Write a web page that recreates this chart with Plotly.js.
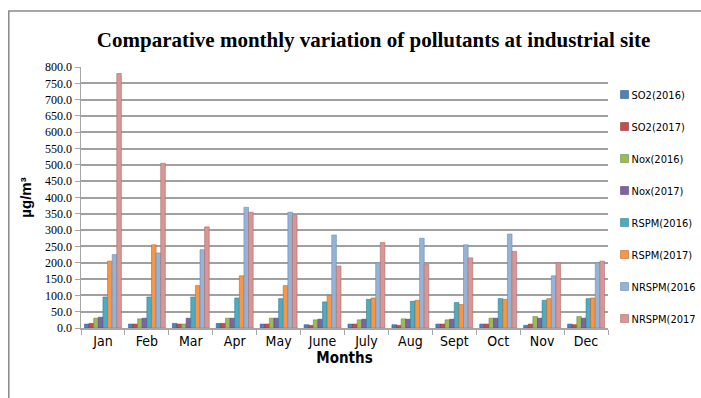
<!DOCTYPE html>
<html><head><meta charset="utf-8">
<script src="https://cdn.plot.ly/plotly-3.0.1.min.js"></script>
<style>body{margin:0;background:#fff}#c{width:701px;height:398px}</style>
</head><body><div id="c"></div>
<script>
const months = ["Jan","Feb","Mar","Apr","May","June","July","Aug","Sept","Oct","Nov","Dec"];
const seriesNames = ["SO2(2016)","SO2(2017)","Nox(2016)","Nox(2017)","RSPM(2016)","RSPM(2017)","NRSPM(2016","NRSPM(2017"];
const so2_2016   = [12, 12, 14, 14, 12, 10, 12, 10, 12, 12, 8, 12];
const so2_2017   = [14, 12, 12, 14, 12, 8, 12, 8, 12, 12, 12, 10];
const nox_2016   = [30, 28, 12, 30, 30, 25, 25, 28, 25, 30, 35, 35];
const nox_2017   = [33, 30, 30, 30, 30, 27, 27, 27, 27, 30, 30, 30];
const rspm_2016  = [95, 95, 95, 92, 90, 80, 88, 82, 78, 90, 85, 90];
const rspm_2017  = [205, 255, 130, 160, 130, 100, 92, 85, 72, 88, 90, 92];
const nrspm_2016 = [225, 230, 240, 370, 355, 285, 200, 275, 255, 288, 160, 200];
const nrspm_2017 = [780, 505, 310, 355, 345, 190, 262, 195, 215, 235, 200, 205];
const yTickVals = [0,50,100,150,200,250,300,350,400,450,500,550,600,650,700,750,800];

const allSeries = [so2_2016, so2_2017, nox_2016, nox_2017, rspm_2016, rspm_2017, nrspm_2016, nrspm_2017];
const colors = ["#4F81BD","#C0504D","#9BBB59","#8064A2","#4BACC6","#F79646","#95B3D7","#D99694"];
const edge   = ["#385D8A","#8C3836","#71893F","#5C4776","#357D91","#B66D31","#6C8BB3","#A86F6D"];

const narrow = "DejaVu Sans Condensed, Liberation Sans Narrow, Arial Narrow, Liberation Sans, sans-serif";

const traces = allSeries.map((vals, i) => ({
  type: "bar", x: months, y: vals, name: seriesNames[i],
  legendgroup: "g" + i,
  marker: {color: colors[i], line: {color: edge[i], width: 0.6}},
  hoverinfo: "skip"
}));

const layout = {
  width: 701, height: 398,
  margin: {l: 81, r: 93, t: 67, b: 70, autoexpand: false},
  paper_bgcolor: "#fff", plot_bgcolor: "#fff",
  barmode: "group", bargap: 0.16, bargroupgap: 0,
  title: {text: "<b>Comparative monthly variation of pollutants at industrial site</b>",
    font: {family: "Liberation Serif, Times New Roman, serif", size: 21, color: "#000"},
    x: 0.533, xanchor: "center", y: 0.9, yanchor: "middle"},
  xaxis: {
    tickangle: 0,
    tickfont: {family: narrow, size: 14, color: "#000"},
    title: {text: "<b>Months</b>", standoff: 0,
      font: {family: narrow, size: 15, color: "#000"}},
    showline: true, linecolor: "#A6A6A6", linewidth: 1.5,
    ticks: "outside", ticklen: 5, tickcolor: "#A6A6A6",
    tickson: "boundaries", showgrid: false
  },
  yaxis: {
    range: [0, 800], tickvals: yTickVals,
    ticktext: yTickVals.map(v => v.toFixed(1)),
    tickfont: {family: "Liberation Serif, Times New Roman, serif", size: 12, color: "#000"},
    title: {text: "<b>µg/m³</b>", standoff: 10,
      font: {family: "Liberation Sans, Arial, sans-serif", size: 15, color: "#000"}},
    showgrid: true, gridcolor: "#A0A0A0", gridwidth: 2,
    showline: true, linecolor: "#A6A6A6", linewidth: 1.5,
    ticks: "outside", ticklen: 5, tickcolor: "#A6A6A6",
    zeroline: false
  },
  legend: {
    x: 1.02, xanchor: "left", y: 0.95, yanchor: "top",
    font: {family: narrow, size: 11, color: "#000"},
    tracegroupgap: 13, itemwidth: 30, traceorder: "grouped",
    bgcolor: "rgba(0,0,0,0)"
  },
  shapes: [{type: "rect", xref: "paper", yref: "paper",
    x0: -0.137, x1: 1.4, y0: -0.3, y1: 1.215,
    line: {color: "#888", width: 1.5}, fillcolor: "rgba(0,0,0,0)", layer: "below"}],
  showlegend: true
};

Plotly.newPlot("c", traces, layout, {staticPlot: true, displayModeBar: false}).then(gd => {
  // compact legend entries like the reference (small swatch, text close to it)
  gd.querySelectorAll(".legend .legendpoints path").forEach(p => {
    p.setAttribute("d", "M4,4H-4V-4H4Z");
    p.setAttribute("transform", "translate(6,0)");
  });
  gd.querySelectorAll(".legend .legendtext").forEach(t => {
    t.setAttribute("x", "13");
    t.querySelectorAll("tspan").forEach(s => { if (s.getAttribute("x")) s.setAttribute("x", "13"); });
  });
  gd.querySelectorAll(".legend clipPath rect, .legend .bg").forEach(r => {
    r.setAttribute("width", "100");
  });
  gd.querySelectorAll("defs clipPath").forEach(cp => {
    if (cp.id && cp.id.indexOf("legend") >= 0) cp.querySelectorAll("rect").forEach(r => r.setAttribute("width", "100"));
  });
});
</script></body></html>
